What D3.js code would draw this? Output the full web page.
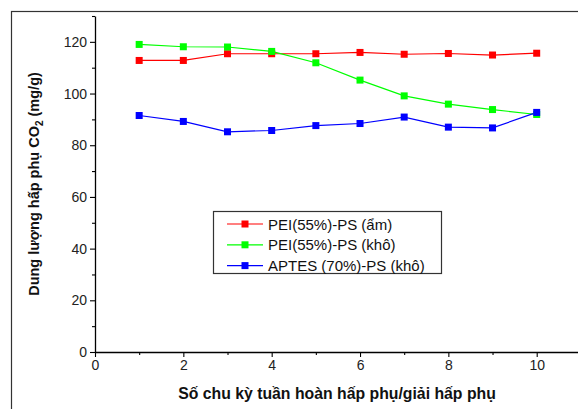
<!DOCTYPE html>
<html>
<head>
<meta charset="utf-8">
<script src="https://cdn.jsdelivr.net/npm/d3@7"></script>
<style>
  body { margin: 0; background: #fff; }
  svg { display: block; font-family: "Liberation Sans", Arial, sans-serif; }
</style>
</head>
<body>
<svg id="chart" width="578" height="409"></svg>
<script>
var cycles = [1, 2, 3, 4, 5, 6, 7, 8, 9, 10]
var peiWet = [112.8, 112.8, 115.4, 115.4, 115.4, 115.9, 115.2, 115.5, 114.9, 115.6]
var peiDry = [119.0, 118.1, 118.0, 116.3, 111.9, 105.2, 99.1, 95.9, 93.8, 91.9]
var aptesDry = [91.5, 89.2, 85.2, 85.7, 87.6, 88.4, 90.9, 87.0, 86.7, 92.7]
var seriesNames = ["PEI(55%)-PS (ẩm)", "PEI(55%)-PS (khô)", "APTES (70%)-PS (khô)"]
var seriesColors = ["#ff0000", "#00ff00", "#0000ff"]
var xTicks = [0, 2, 4, 6, 8, 10]
var yTicks = [0, 20, 40, 60, 80, 100, 120]

var dimensions = {
    width: 578,
    height: 409,
    margin: { top: 16, bottom: 57, right: 0, left: 95 }
}

var svg = d3.select("#chart")

// outer frame
svg.append("rect")
   .attr("x", 11.5).attr("y", 11.5)
   .attr("width", 580).attr("height", 410)
   .attr("fill", "none").attr("stroke", "#333").attr("stroke-width", 1.2)

var xScale = d3.scaleLinear()
               .domain([0, 11])
               .range([dimensions.margin.left, dimensions.margin.left + 44.17 * 11])

var yScale = d3.scaleLinear()
               .domain([0, 130])
               .range([dimensions.height - dimensions.margin.bottom, dimensions.margin.top])

var series = [peiWet, peiDry, aptesDry].map((vals, i) => ({
    name: seriesNames[i],
    color: seriesColors[i],
    points: cycles.map((c, j) => ({ x: c, y: vals[j] }))
}))

// axes
var xAxis = svg.append("g")
   .attr("transform", `translate(0,${yScale(0)})`)
   .call(d3.axisBottom(xScale).tickValues(xTicks).tickSize(5).tickPadding(3).tickSizeOuter(0))
var xMinor = svg.append("g")
   .attr("transform", `translate(0,${yScale(0)})`)
   .call(d3.axisBottom(xScale).tickValues([1, 3, 5, 7, 9]).tickSize(3).tickFormat("").tickSizeOuter(0))
xMinor.select(".domain").remove()

var yAxis = svg.append("g")
   .attr("transform", `translate(${xScale(0)},0)`)
   .call(d3.axisLeft(yScale).tickValues(yTicks).tickSize(5).tickPadding(3).tickSizeOuter(0))
var yMinor = svg.append("g")
   .attr("transform", `translate(${xScale(0)},0)`)
   .call(d3.axisLeft(yScale).tickValues([10, 30, 50, 70, 90, 110, 130]).tickSize(3).tickFormat("").tickSizeOuter(0))
yMinor.select(".domain").remove()

svg.selectAll(".domain").attr("stroke", "#000").attr("stroke-width", 1.3)
svg.selectAll(".tick line").attr("stroke", "#000").attr("stroke-width", 1.1)
svg.selectAll(".tick text")
   .attr("fill", "#222")
   .style("font-size", "14px")
   .style("font-family", "Liberation Sans, Arial, sans-serif")

// lines and markers
var line = d3.line().x(d => xScale(d.x)).y(d => yScale(d.y))

series.forEach(s => {
    svg.append("path")
       .attr("d", line(s.points))
       .attr("fill", "none")
       .attr("stroke", s.color)
       .attr("stroke-width", 1.2)
})
series.forEach(s => {
    svg.append("g")
       .selectAll("rect")
       .data(s.points)
       .enter()
       .append("rect")
       .attr("x", d => xScale(d.x) - 3.5)
       .attr("y", d => yScale(d.y) - 3.5)
       .attr("width", 7)
       .attr("height", 7)
       .attr("fill", s.color)
})

// legend
var legend = svg.append("g")
legend.append("rect")
      .attr("x", 213.5).attr("y", 211.5)
      .attr("width", 228).attr("height", 62)
      .attr("fill", "#fff").attr("stroke", "#333").attr("stroke-width", 1.2)
series.forEach((s, i) => {
    var ly = 224 + i * 20.8
    legend.append("line")
          .attr("x1", 227).attr("x2", 263)
          .attr("y1", ly).attr("y2", ly)
          .attr("stroke", s.color).attr("stroke-width", 1.2)
    legend.append("rect")
          .attr("x", 241.5).attr("y", ly - 3.5)
          .attr("width", 7).attr("height", 7)
          .attr("fill", s.color)
    legend.append("text")
          .text(s.name)
          .attr("x", 268)
          .attr("y", ly + 5.5)
          .attr("fill", "#111")
          .style("font-size", "15px")
})

// axis titles
svg.append("text")
   .text("Số chu kỳ tuần hoàn hấp phụ/giải hấp phụ")
   .attr("x", 337)
   .attr("y", 399)
   .attr("text-anchor", "middle")
   .attr("fill", "#111")
   .style("font-size", "15.8px")
   .style("font-weight", "bold")

var yLabel = svg.append("text")
   .attr("transform", "translate(39,184) rotate(-90)")
   .attr("text-anchor", "middle")
   .attr("fill", "#111")
   .style("font-size", "14.5px")
   .style("font-weight", "bold")
yLabel.append("tspan").text("Dung lượng hấp phụ CO")
yLabel.append("tspan").text("2").attr("dy", 4).style("font-size", "10px")
yLabel.append("tspan").text(" (mg/g)").attr("dy", -4)
</script>
</body>
</html>
